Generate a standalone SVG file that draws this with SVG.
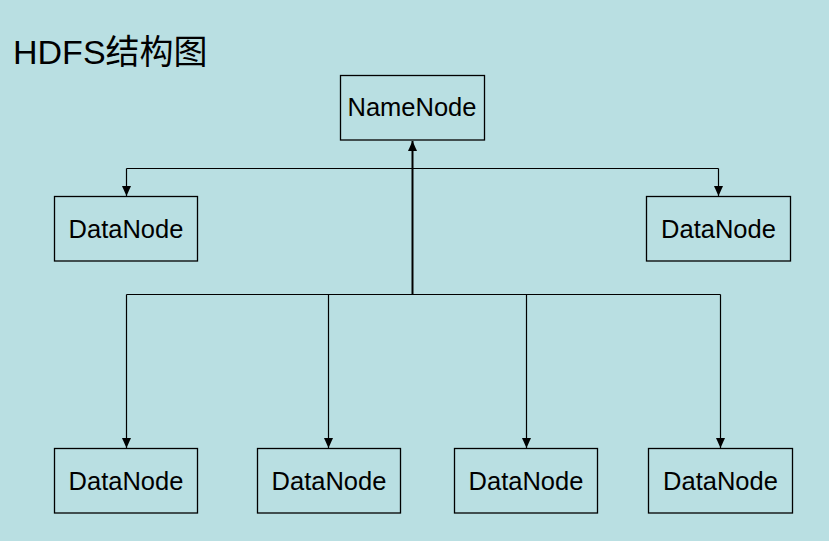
<svg xmlns="http://www.w3.org/2000/svg" width="829" height="541" viewBox="0 0 829 541">
<defs>
<style>
.box{fill:none;stroke:#000;stroke-width:1.3}
.lbl{font-family:"Liberation Sans",Arial,sans-serif;font-size:25.5px;fill:#000;text-anchor:middle}
.ttl{font-family:"Liberation Sans","Noto Sans CJK SC",sans-serif;font-size:34px;fill:#000}
.wire{fill:none;stroke:#000;stroke-width:1.2}
</style>
<marker id="ah" viewBox="0 0 10 10" refX="10" refY="5" markerWidth="10" markerHeight="10" markerUnits="userSpaceOnUse" orient="auto">
<path d="M0,0.5 L10,5 L0,9.5 Z" fill="#000"/>
</marker>
</defs>
<rect width="829" height="541" fill="#B9DFE2"/>
<text class="ttl" x="13" y="63.5">HDFS结构图</text>
<g id="connectors">
<path class="wire" d="M126.5,168.5 H718.5"/>
<path class="wire" d="M126.5,168.5 V196" marker-end="url(#ah)"/>
<path class="wire" d="M718.5,168.5 V196" marker-end="url(#ah)"/>
<path class="wire" d="M126.5,294.5 H720.5"/>
<path class="wire" style="stroke-width:2" d="M412.5,294.5 V141" marker-end="url(#ah)"/>
<path class="wire" d="M126.5,294.5 V448" marker-end="url(#ah)"/>
<path class="wire" d="M328.5,294.5 V448" marker-end="url(#ah)"/>
<path class="wire" d="M526.5,294.5 V448" marker-end="url(#ah)"/>
<path class="wire" d="M720.5,294.5 V448" marker-end="url(#ah)"/>
</g>
<g id="namenode"><rect class="box" x="340.5" y="75.5" width="144" height="64.5"/><text class="lbl" x="412" y="116">NameNode</text></g>
<g id="datanode-top-left"><rect class="box" x="54.5" y="196.5" width="143" height="64.5"/><text class="lbl" x="126" y="238">DataNode</text></g>
<g id="datanode-top-right"><rect class="box" x="646.5" y="196.5" width="144" height="64.5"/><text class="lbl" x="718.5" y="238">DataNode</text></g>
<g id="datanode-1"><rect class="box" x="54.5" y="448.5" width="143" height="64.5"/><text class="lbl" x="126" y="490">DataNode</text></g>
<g id="datanode-2"><rect class="box" x="257.5" y="448.5" width="143" height="64.5"/><text class="lbl" x="329" y="490">DataNode</text></g>
<g id="datanode-3"><rect class="box" x="454.5" y="448.5" width="143" height="64.5"/><text class="lbl" x="526" y="490">DataNode</text></g>
<g id="datanode-4"><rect class="box" x="648.5" y="448.5" width="144" height="64.5"/><text class="lbl" x="720.5" y="490">DataNode</text></g>
</svg>
